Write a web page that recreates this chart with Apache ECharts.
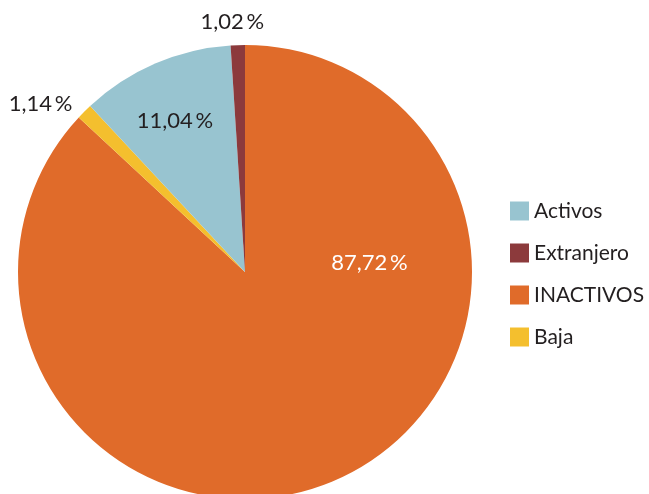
<!DOCTYPE html>
<html>
<head>
<meta charset="utf-8">
<script src="https://cdn.jsdelivr.net/npm/echarts@6/dist/echarts.min.js"></script>
<style>html,body{margin:0;padding:0;background:#fff}#c{width:649px;height:494px}</style>
</head>
<body>
<div id="c"></div>
<script>
// Data (clockwise from 12 o'clock)
var categories = ['INACTIVOS', 'Baja', 'Activos', 'Extranjero'];
var values = [87.72, 1.14, 11.04, 1.02];
var legendOrder = ['Activos', 'Extranjero', 'INACTIVOS', 'Baja'];

var colors = { 'INACTIVOS': '#e06b2a', 'Baja': '#f4bf2e', 'Activos': '#98c4d0', 'Extranjero': '#8c3a3c' };
var labelOffsets = { 'INACTIVOS': [78, -116], 'Baja': [-122, -86], 'Activos': [-24, -44], 'Extranjero': [-9, -134] };
var labelColors = { 'INACTIVOS': '#ffffff', 'Baja': '#231f20', 'Activos': '#231f20', 'Extranjero': '#231f20' };

function fmt(v) { return v.toFixed(2).replace('.', ',') + '\u2009%'; }

var chart = echarts.init(document.getElementById('c'));
chart.setOption({
  animation: false,
  textStyle: { fontFamily: 'Lato' },
  legend: {
    data: legendOrder,
    orient: 'vertical',
    left: 505,
    top: 195,
    itemWidth: 19,
    itemHeight: 19,
    itemGap: 20,
    itemTextGap: 7,
    icon: 'rect',
    textStyle: { fontFamily: 'Lato', fontSize: 21, color: '#231f20', lineHeight: 22 }
  },
  series: [{
    type: 'pie',
    center: [245, 272],
    radius: [0, 227],
    startAngle: 90,
    clockwise: true,
    avoidLabelOverlap: false,
    labelLine: { show: false },
    itemStyle: { borderWidth: 0 },
    emphasis: { disabled: true },
    data: categories.map(function (c, i) {
      return {
        name: c,
        value: values[i],
        itemStyle: { color: colors[c] },
        label: {
          show: true,
          position: 'inside',
          offset: labelOffsets[c],
          formatter: fmt(values[i]),
          fontFamily: 'Lato',
          fontSize: 22,
          color: labelColors[c]
        }
      };
    })
  }]
});
</script>
</body>
</html>
